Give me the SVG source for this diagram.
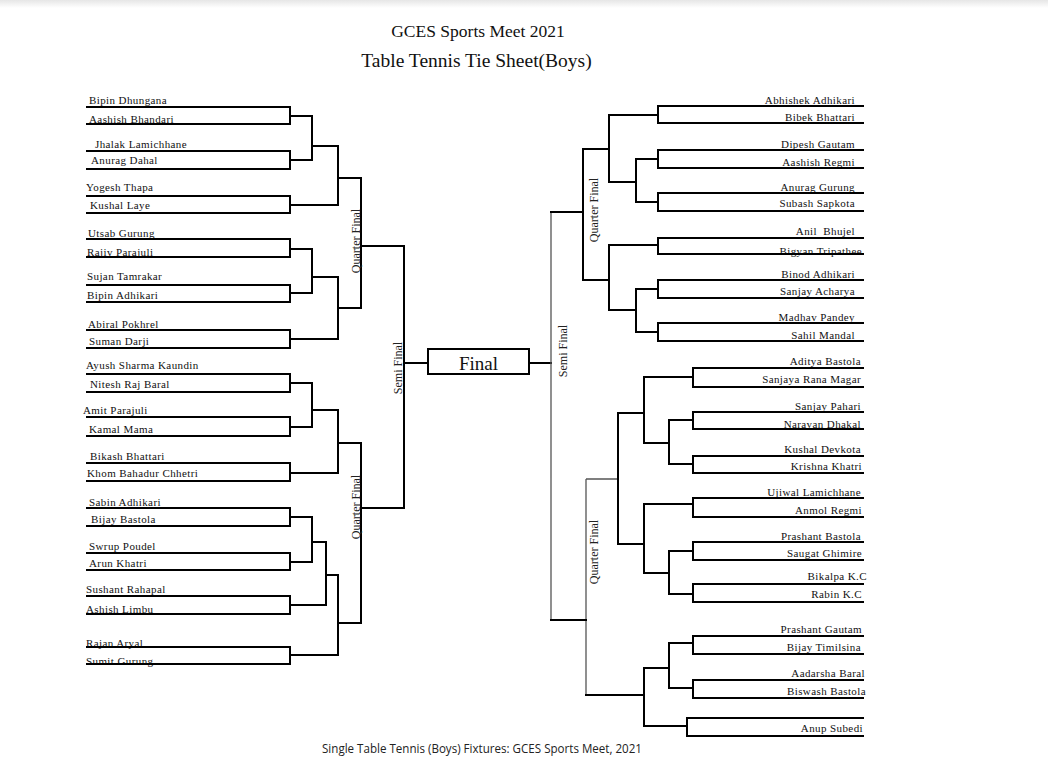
<svg xmlns="http://www.w3.org/2000/svg" width="1048" height="765" viewBox="0 0 1048 765">
<defs>
<linearGradient id="topShade" x1="0" y1="0" x2="0" y2="1">
<stop offset="0" stop-color="#e6e6e6"/>
<stop offset="1" stop-color="#ffffff"/>
</linearGradient>
</defs>
<style>
.nm{font-family:"Liberation Serif","Times New Roman",serif;font-size:11px;letter-spacing:0.4px;fill:#111}
.r{text-anchor:end}
.lbl{font-family:"Liberation Serif","Times New Roman",serif;font-size:12px;fill:#222;text-anchor:middle}
.ttl{font-family:"Liberation Serif","Times New Roman",serif;fill:#111;text-anchor:middle}
.cap{font-family:"Open Sans","Noto Sans","Liberation Sans",sans-serif;font-size:12px;fill:#222}
.ul{stroke:#000;stroke-width:2;fill:none}
.ln{stroke:#000;stroke-width:2;fill:none;stroke-linecap:square}
.thin{stroke:#555;stroke-width:1.3;fill:none}
</style>
<rect x="0" y="0" width="1048" height="765" fill="#fff"/>
<rect x="0" y="0" width="1048" height="8" fill="url(#topShade)"/>

<g id="title">
<text class="ttl" x="478" y="37" font-size="17.5">GCES Sports Meet 2021</text>
<text class="ttl" x="476.5" y="67" font-size="19.5">Table Tennis Tie Sheet(Boys)</text>
</g>

<g id="connectors">
<path class="ln" d="M290,107V124M290,116H312M290,151V169M290,160H312M290,196V213M290,205H338M290,239V257M290,249H312M290,285V302M290,293H312M290,330V348M290,339H338M290,374V392M290,383H312M290,417V436M290,427H312M290,463V481M290,473H338M290,508V526M290,517H312M290,553V570M290,562H312M290,596V614M290,605H326M290,647V664M290,655H338"/>
<path class="ln" d="M312,116V160M312,146H338M312,249V293M312,277H338M312,383V427M312,410H338M312,517V562M312,542H326M326,542V605M326,575H338"/>
<path class="ln" d="M338,146V205M338,178H361M338,277V339M338,308H361M338,410V473M338,443H361M338,575V655M338,623H361"/>
<path class="ln" d="M361,178V308M361,246H404M361,443V623M361,508H404M404,246V508M404,363H428M529,363H551"/>
<path class="thin" d="M551,212V620M586,479V695M586,479H618"/>
<path class="ln" d="M551,212H583M551,620H586M583,149V280M609,115V182M609,149H583M609,245V310M609,280H583M636,159V202M636,182H609M636,289V332M636,310H609"/>
<path class="ln" d="M658,106V123M658,115H609M658,150V168M658,159H636M658,193V211M658,202H636M658,238V254M658,245H609M658,280V298M658,289H636M658,323V341M658,332H636"/>
<path class="ln" d="M618,413V544M644,377V443M644,413H618M644,504V573M644,544H618M669,420V464M669,443H644M669,551V594M669,573H644M644,668V726M644,695H586M669,643V688M669,668H644"/>
<path class="ln" d="M693,368V387M693,377H644M693,412V429M693,420H669M693,456V473M693,464H669M693,498V517M693,504H644M693,542V560M693,551H669M693,584V602M693,594H669M693,636V654M693,643H669M693,680V698M693,688H669M687,718V736M687,726H644"/>
</g>

<g id="labels">
<text class="lbl" transform="translate(360,241) rotate(-90)">Quarter Final</text>
<text class="lbl" transform="translate(360,507) rotate(-90)">Quarter Final</text>
<text class="lbl" transform="translate(402,368) rotate(-90)">Semi Final</text>
<text class="lbl" transform="translate(598,210) rotate(-90)">Quarter Final</text>
<text class="lbl" transform="translate(567,351) rotate(-90)">Semi Final</text>
<text class="lbl" transform="translate(598,552) rotate(-90)">Quarter Final</text>
</g>

<g id="final">
<rect x="428" y="349" width="101" height="25" fill="#fff" stroke="#000" stroke-width="2"/>
<text class="ttl" x="478.5" y="370" font-size="19">Final</text>
</g>

<g id="left-1"><text class="nm" x="89" y="104">Bipin Dhungana</text><path class="ul" d="M86,107H290"/></g>
<g id="left-2"><text class="nm" x="89" y="123">Aashish Bhandari</text><path class="ul" d="M86,124H290"/></g>
<g id="left-3"><text class="nm" x="95" y="148">Jhalak Lamichhane</text><path class="ul" d="M86,151H290"/></g>
<g id="left-4"><text class="nm" x="91" y="164">Anurag Dahal</text><path class="ul" d="M86,169H290"/></g>
<g id="left-5"><text class="nm" x="86" y="191">Yogesh Thapa</text><path class="ul" d="M86,196H290"/></g>
<g id="left-6"><text class="nm" x="90" y="209">Kushal Laye</text><path class="ul" d="M86,213H290"/></g>
<g id="left-7"><text class="nm" x="88" y="237">Utsab Gurung</text><path class="ul" d="M86,239H290"/></g>
<g id="left-8"><text class="nm" x="87" y="256">Rajiv Parajuli</text><path class="ul" d="M86,257H290"/></g>
<g id="left-9"><text class="nm" x="87" y="280">Sujan Tamrakar</text><path class="ul" d="M86,285H290"/></g>
<g id="left-10"><text class="nm" x="87" y="299">Bipin Adhikari</text><path class="ul" d="M86,302H290"/></g>
<g id="left-11"><text class="nm" x="88" y="328">Abiral Pokhrel</text><path class="ul" d="M86,330H290"/></g>
<g id="left-12"><text class="nm" x="89" y="345">Suman Darji</text><path class="ul" d="M86,348H290"/></g>
<g id="left-13"><text class="nm" x="86" y="369">Ayush Sharma Kaundin</text><path class="ul" d="M86,374H290"/></g>
<g id="left-14"><text class="nm" x="90" y="388">Nitesh Raj Baral</text><path class="ul" d="M86,392H290"/></g>
<g id="left-15"><text class="nm" x="83" y="414">Amit Parajuli</text><path class="ul" d="M86,417H290"/></g>
<g id="left-16"><text class="nm" x="89" y="433">Kamal Mama</text><path class="ul" d="M86,436H290"/></g>
<g id="left-17"><text class="nm" x="90" y="460">Bikash Bhattari</text><path class="ul" d="M86,463H290"/></g>
<g id="left-18"><text class="nm" x="87" y="477">Khom Bahadur Chhetri</text><path class="ul" d="M86,481H290"/></g>
<g id="left-19"><text class="nm" x="89" y="506">Sabin Adhikari</text><path class="ul" d="M86,508H290"/></g>
<g id="left-20"><text class="nm" x="91" y="523">Bijay Bastola</text><path class="ul" d="M86,526H290"/></g>
<g id="left-21"><text class="nm" x="89" y="550">Swrup Poudel</text><path class="ul" d="M86,553H290"/></g>
<g id="left-22"><text class="nm" x="89" y="567">Arun Khatri</text><path class="ul" d="M86,570H290"/></g>
<g id="left-23"><text class="nm" x="86" y="593">Sushant Rahapal</text><path class="ul" d="M86,596H290"/></g>
<g id="left-24"><text class="nm" x="86" y="613">Ashish Limbu</text><path class="ul" d="M86,614H290"/></g>
<g id="left-25"><text class="nm" x="86" y="647">Rajan Aryal</text><path class="ul" d="M86,647H290"/></g>
<g id="left-26"><text class="nm" x="86" y="665">Sumit Gurung</text><path class="ul" d="M86,664H290"/></g>

<g id="right-1"><text class="nm r" x="855" y="104">Abhishek Adhikari</text><path class="ul" d="M658,106H864"/></g>
<g id="right-2"><text class="nm r" x="855" y="121">Bibek Bhattari</text><path class="ul" d="M658,123H864"/></g>
<g id="right-3"><text class="nm r" x="855" y="148">Dipesh Gautam</text><path class="ul" d="M658,150H864"/></g>
<g id="right-4"><text class="nm r" x="855" y="166">Aashish Regmi</text><path class="ul" d="M658,168H864"/></g>
<g id="right-5"><text class="nm r" x="855" y="191">Anurag Gurung</text><path class="ul" d="M658,193H864"/></g>
<g id="right-6"><text class="nm r" x="855" y="207">Subash Sapkota</text><path class="ul" d="M658,211H864"/></g>
<g id="right-7"><text class="nm r" x="855" y="235" xml:space="preserve">Anil  Bhujel</text><path class="ul" d="M658,238H864"/></g>
<g id="right-8"><text class="nm r" x="862" y="255">Bigyan Tripathee</text><path class="ul" d="M658,254H864"/></g>
<g id="right-9"><text class="nm r" x="855" y="278">Binod Adhikari</text><path class="ul" d="M658,280H864"/></g>
<g id="right-10"><text class="nm r" x="855" y="295">Sanjay Acharya</text><path class="ul" d="M658,298H864"/></g>
<g id="right-11"><text class="nm r" x="855" y="321">Madhav Pandey</text><path class="ul" d="M658,323H864"/></g>
<g id="right-12"><text class="nm r" x="855" y="339">Sahil Mandal</text><path class="ul" d="M658,341H864"/></g>
<g id="right-13"><text class="nm r" x="861" y="365">Aditya Bastola</text><path class="ul" d="M693,368H864"/></g>
<g id="right-14"><text class="nm r" x="861" y="383">Sanjaya Rana Magar</text><path class="ul" d="M693,387H864"/></g>
<g id="right-15"><text class="nm r" x="861" y="410">Sanjay Pahari</text><path class="ul" d="M693,412H864"/></g>
<g id="right-16"><text class="nm r" x="861" y="428">Narayan Dhakal</text><path class="ul" d="M693,429H864"/></g>
<g id="right-17"><text class="nm r" x="861" y="453">Kushal Devkota</text><path class="ul" d="M693,456H864"/></g>
<g id="right-18"><text class="nm r" x="862" y="470">Krishna Khatri</text><path class="ul" d="M693,473H864"/></g>
<g id="right-19"><text class="nm r" x="861" y="496">Ujiwal Lamichhane</text><path class="ul" d="M693,498H864"/></g>
<g id="right-20"><text class="nm r" x="862" y="514">Anmol Regmi</text><path class="ul" d="M693,517H864"/></g>
<g id="right-21"><text class="nm r" x="861" y="540">Prashant Bastola</text><path class="ul" d="M693,542H864"/></g>
<g id="right-22"><text class="nm r" x="862" y="557">Saugat Ghimire</text><path class="ul" d="M693,560H864"/></g>
<g id="right-23"><text class="nm r" x="867" y="580">Bikalpa K.C</text><path class="ul" d="M693,584H864"/></g>
<g id="right-24"><text class="nm r" x="862" y="598">Rabin K.C</text><path class="ul" d="M693,602H864"/></g>
<g id="right-25"><text class="nm r" x="862" y="633">Prashant Gautam</text><path class="ul" d="M693,636H864"/></g>
<g id="right-26"><text class="nm r" x="861" y="651">Bijay Timilsina</text><path class="ul" d="M693,654H864"/></g>
<g id="right-27"><text class="nm r" x="865" y="677">Aadarsha Baral</text><path class="ul" d="M693,680H864"/></g>
<g id="right-28"><text class="nm r" x="866" y="695">Biswash Bastola</text><path class="ul" d="M693,698H864"/></g>
<g id="right-29"><text class="nm r" x="863" y="732">Anup Subedi</text><path class="ul" d="M687,718H864M687,736H864"/></g>

<g id="caption">
<text class="cap" x="322" y="753" textLength="320" lengthAdjust="spacingAndGlyphs">Single Table Tennis (Boys) Fixtures: GCES Sports Meet, 2021</text>
</g>
</svg>
